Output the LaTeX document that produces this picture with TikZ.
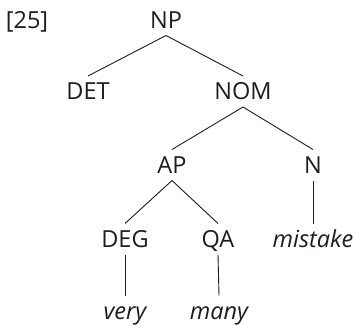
\documentclass[tikz,border=0pt]{standalone}
\usepackage{fontspec}
\setmainfont{Open Sans}
\usepackage{tikz}
\usetikzlibrary{positioning}
\definecolor{inkgray}{RGB}{30, 28, 28}

\tikzset{
  cat/.style={text=inkgray, font=\fontsize{23.5}{27}\selectfont, inner xsep=0pt, inner ysep=7pt,
    text height=16.6pt, text depth=0pt},
  word/.style={cat, font=\fontsize{23.5}{27}\selectfont\itshape},
  branch/.style={draw=inkgray, line width=0.9pt},
}

\begin{document}
\begin{tikzpicture}[x=1pt, y=-1pt]
  \useasboundingbox (0,0) rectangle (353,326);

  % example number
  \node[cat] (exnum) at (27,20) {[25]};

  % categories
  \node[cat] (np)  at (166,20)  {NP};
  \node[cat] (det) at (88,91.5) {DET};
  \node[cat] (nom) at (243,91.5) {NOM};
  \node[cat] (ap)  at (172,165) {AP};
  \node[cat] (n)   at (313,165) {N};
  \node[cat] (deg) at (125,239) {DEG};
  \node[cat] (qa)  at (218,239) {QA};

  % words
  \node[word] (mistake) at (313,239) {mistake};
  \node[word] (very)    at (125,311) {very};
  \node[word] (many)    at (219,311) {many};

  % branches
  \draw[branch] (np.south) -- (det.north);
  \draw[branch] (np.south) -- (nom.north);
  \draw[branch] (nom.south) -- (ap.north);
  \draw[branch] (nom.south) -- (n.north);
  \draw[branch] (ap.south) -- (deg.north);
  \draw[branch] (ap.south) -- (qa.north);
  \draw[branch] (n.south) -- (mistake.north);
  \draw[branch] (deg.south) -- (very.north);
  \draw[branch] (qa.south) -- (many.north);
\end{tikzpicture}
\end{document}
